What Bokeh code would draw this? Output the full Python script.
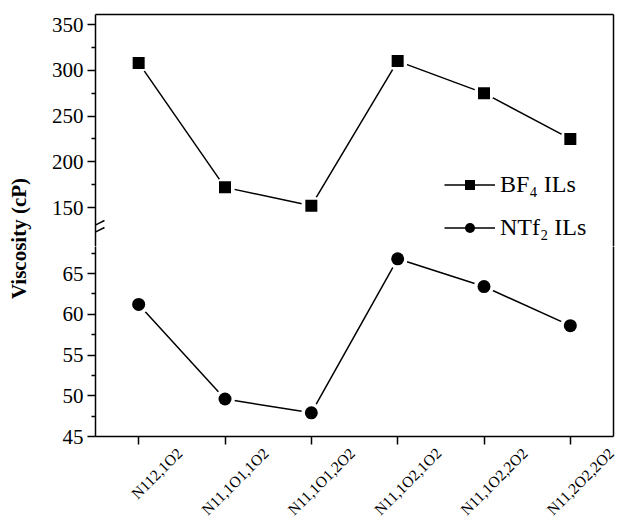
import math
from bokeh.plotting import figure
from bokeh.models import (Range1d, LinearAxis, FixedTicker, Legend, LegendItem,
                          Label, Arrow)
from bokeh.layouts import row, column
from bokeh.embed import file_html
from bokeh.resources import INLINE

# ---------------- data ----------------
cat_main = ["N", "N", "N", "N", "N", "N"]
cat_subs = ["112,1O2", "11,1O1,1O2", "11,1O1,2O2", "11,1O2,1O2", "11,1O2,2O2", "11,2O2,2O2"]
bf4_visc = [308, 172, 152, 310, 275, 225]
ntf2_visc = [61.2, 49.6, 47.9, 66.8, 63.4, 58.6]
upper_major = [150, 200, 250, 300, 350]
upper_minor = [175, 225, 275, 325]
lower_major = [45, 50, 55, 60, 65]
lower_minor = [47.5, 52.5, 57.5, 62.5, 67.5]
legend_labels = ["BF\u2084 ILs", "NTf\u2082 ILs"]
y_title = "Viscosity (cP)"

x_pos = list(range(1, len(cat_subs) + 1))

# ---------------- geometry (page pixels) ----------------
FONT = "Liberation Serif"
PAGE_W, PAGE_H = 618, 527
LAB_W = 48
MAIN_W = PAGE_W - LAB_W
FRAME_L, FRAME_R = 93, 613
FRAME_T, BREAK_Y, FRAME_B = 14, 246, 436
UP_H = BREAK_Y
LOW_H = PAGE_H - UP_H
B_LEFT, B_RIGHT = FRAME_L - LAB_W, PAGE_W - FRAME_R
B_BOTTOM = PAGE_H - FRAME_B

X0, X1 = 0.5, len(cat_subs) + 0.5
PXX = (FRAME_R - FRAME_L) / (X1 - X0)
LABEL_SHIFT_PX = 41          # rotated labels end to the right of their tick

UP_PX_PER_UNIT = 0.915
UP_Y1 = 350 + 10 / UP_PX_PER_UNIT
UP_Y0 = UP_Y1 - (BREAK_Y - FRAME_T) / UP_PX_PER_UNIT
LOW_PX_PER_UNIT = 8.15
LOW_Y0 = 45
LOW_Y1 = LOW_Y0 + (FRAME_B - BREAK_Y) / LOW_PX_PER_UNIT

x_range = Range1d(X0, X1)


def make_fig(h, y0, y1, top, bottom):
    f = figure(width=MAIN_W, height=h, x_range=x_range, y_range=Range1d(y0, y1),
               x_axis_type=None, y_axis_type=None, toolbar_location=None,
               output_backend="svg", outline_line_color=None,
               min_border_left=B_LEFT, min_border_right=B_RIGHT,
               min_border_top=top, min_border_bottom=bottom,
               background_fill_color="white", border_fill_color="white")
    f.xgrid.visible = False
    f.ygrid.visible = False
    return f


def ticked_axis(ax, ticks, minor):
    ax.ticker = FixedTicker(ticks=ticks, minor_ticks=minor)
    ax.axis_line_width = 1.5
    ax.axis_line_color = "black"
    ax.major_tick_line_width = 1.5
    ax.minor_tick_line_width = 1.5
    ax.major_tick_in = 0
    ax.major_tick_out = 8
    ax.minor_tick_in = 0
    ax.minor_tick_out = 4
    ax.major_label_text_font = FONT
    ax.major_label_text_font_size = "21px"
    ax.major_label_text_color = "black"
    ax.major_label_standoff = 4
    return ax


def blank_axis():
    ax = LinearAxis(ticker=FixedTicker(ticks=[], minor_ticks=[]))
    ax.axis_line_width = 1.5
    ax.axis_line_color = "black"
    ax.major_tick_out = 0
    ax.minor_tick_out = 0
    ax.major_tick_in = 0
    ax.minor_tick_in = 0
    ax.major_label_standoff = 0
    return ax


# ---------------- upper panel (BF4) ----------------
up = make_fig(UP_H, UP_Y0, UP_Y1, FRAME_T, 0)
up.add_layout(ticked_axis(LinearAxis(), upper_major, upper_minor), "left")
up.add_layout(blank_axis(), "right")
up.add_layout(blank_axis(), "above")

bl = up.line(x_pos, bf4_visc, line_color="black", line_width=1.5)
up.scatter(x_pos, bf4_visc, marker="circle", size=20, fill_color="white", line_color=None)
bp = up.scatter(x_pos, bf4_visc, marker="square", size=12, fill_color="black", line_color=None)

# the NTf2 series also exists in this panel (below its range, so unseen) for the legend
nl = up.line(x_pos, ntf2_visc, line_color="black", line_width=1.5)
npnt = up.scatter(x_pos, ntf2_visc, marker="circle", size=12, fill_color="black", line_color=None)

legend = Legend(items=[LegendItem(label=legend_labels[0], renderers=[bl, bp]),
                       LegendItem(label=legend_labels[1], renderers=[nl, npnt])],
                location=(442 - FRAME_L, 5), orientation="vertical",
                glyph_width=51, glyph_height=25, label_height=25, spacing=16,
                padding=0, margin=0, border_line_color=None,
                background_fill_alpha=0, label_standoff=5,
                label_text_font=FONT, label_text_font_size="24px",
                label_text_color="black")
up.add_layout(legend)


# axis break marks on the left axis
def up_data(sx, sy):
    return X0 + (sx - FRAME_L) / PXX, UP_Y0 + (BREAK_Y - sy) / UP_PX_PER_UNIT


for (sa, sb) in [((84, 229), (102, 220)), ((84, 236), (102, 227))]:
    xa, ya = up_data(*sa)
    xb, yb = up_data(*sb)
    up.add_layout(Arrow(end=None, x_start=xa, y_start=ya, x_end=xb, y_end=yb,
                        line_color="black", line_width=1.5))

# ---------------- lower panel (NTf2) ----------------
low = make_fig(LOW_H, LOW_Y0, LOW_Y1, 0, B_BOTTOM)
low.add_layout(ticked_axis(LinearAxis(), lower_major, lower_minor), "left")
low.add_layout(blank_axis(), "right")

# bottom axis: tick marks only
xb_ax = ticked_axis(LinearAxis(), x_pos, [])
xb_ax.major_label_overrides = {i: "" for i in x_pos}
xb_ax.major_label_standoff = 0
xb_ax.major_label_text_font_size = "1px"
low.add_layout(xb_ax, "below")

# category names: a second bottom axis on a slightly shifted copy of the x scale
shift = LABEL_SHIFT_PX / PXX
low.extra_x_ranges = {"names": Range1d(X0 - shift, X1 - shift)}
name_ax = LinearAxis(x_range_name="names", ticker=FixedTicker(ticks=x_pos, minor_ticks=[]))
name_ax.axis_line_color = None
name_ax.major_tick_out = 0
name_ax.major_tick_in = 0
name_ax.minor_tick_out = 0
name_ax.minor_tick_in = 0
name_ax.major_label_overrides = {i: f"{m}{s}" for i, m, s in zip(x_pos, cat_main, cat_subs)}
name_ax.major_label_orientation = math.pi / 4
name_ax.major_label_standoff = 6
name_ax.major_label_text_font = FONT
name_ax.major_label_text_font_size = "15.5px"
name_ax.major_label_text_color = "black"
low.add_layout(name_ax, "below")

low.line(x_pos, ntf2_visc, line_color="black", line_width=1.5)
low.scatter(x_pos, ntf2_visc, marker="circle", size=20, fill_color="white", line_color=None)
low.scatter(x_pos, ntf2_visc, marker="circle", size=13, fill_color="black", line_color=None)

# ---------------- y-axis title panel ----------------
lab = figure(width=LAB_W, height=PAGE_H, x_range=Range1d(0, LAB_W), y_range=Range1d(0, PAGE_H),
             x_axis_type=None, y_axis_type=None, toolbar_location=None, output_backend="svg",
             outline_line_color=None, min_border=0, min_border_left=0, min_border_right=0,
             min_border_top=0, min_border_bottom=0)
lab.xgrid.visible = False
lab.ygrid.visible = False
lab.add_layout(Label(x=18, y=PAGE_H - 238, text=y_title, angle=90, angle_units="deg",
                     text_align="center", text_baseline="middle",
                     text_font=FONT, text_font_size="21px", text_font_style="bold",
                     text_color="black"))

layout = row(lab, column(up, low, spacing=0), spacing=0)

open("out.html", "w").write(file_html(layout, INLINE))
